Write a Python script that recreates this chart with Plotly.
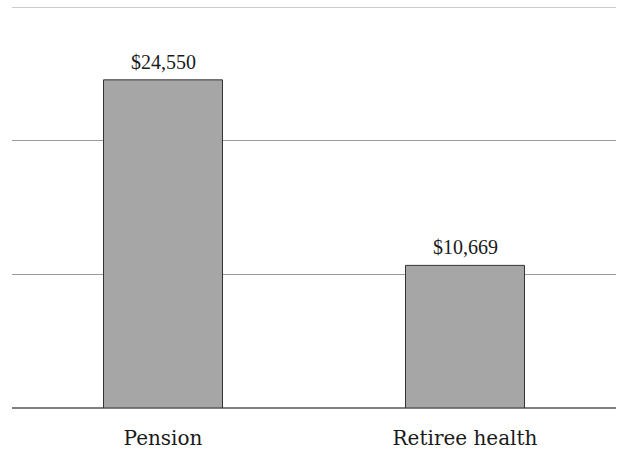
import plotly.graph_objects as go

categories = ["Pension", "Retiree health"]
values = [24550, 10669]
value_labels = ["$24,550", "$10,669"]
grid_values = [10000, 20000, 30000]

VAL_FONT = "'Liberation Serif', 'Times New Roman', Times, serif"
CAT_FONT = "'DejaVu Serif', Georgia, serif"

fig = go.Figure()
fig.add_trace(go.Bar(
    x=categories,
    y=values,
    cliponaxis=False,
    marker=dict(color="#a6a6a6", line=dict(color="#333333", width=1)),
    width=0.394,
    hoverinfo="skip",
))

for c, v, t in zip(categories, values, value_labels):
    fig.add_annotation(
        x=c, y=v, text=t, showarrow=False,
        xanchor="center", yanchor="bottom", yshift=5,
        font=dict(family=VAL_FONT, size=20, color="#1a1a1a"),
    )

# top gridline (at the edge of the range)
fig.add_shape(
    type="line", xref="paper", yref="y", x0=0, x1=1,
    y0=grid_values[-1], y1=grid_values[-1],
    line=dict(color="#9a9a9a", width=1), layer="below",
)

fig.update_layout(
    width=617, height=450,
    margin=dict(l=12, r=1, t=7, b=42, autoexpand=False),
    paper_bgcolor="white",
    plot_bgcolor="white",
    showlegend=False,
    xaxis=dict(
        showgrid=False, showline=False, zeroline=False, ticks="",
        tickfont=dict(family=CAT_FONT, size=20, color="#1a1a1a"),
        ticklabelstandoff=16, automargin=False,
        range=[-0.5, 1.5],
    ),
    yaxis=dict(
        range=[0, 30000], tickvals=grid_values, showticklabels=False,
        showgrid=True, gridcolor="#9a9a9a", gridwidth=1,
        zeroline=True, zerolinecolor="#808080", zerolinewidth=1.5,
        showline=False, ticks="", automargin=False,
    ),
)

fig.write_html("out.html", config={"displayModeBar": False},
               post_script="document.body.style.margin='0';")
